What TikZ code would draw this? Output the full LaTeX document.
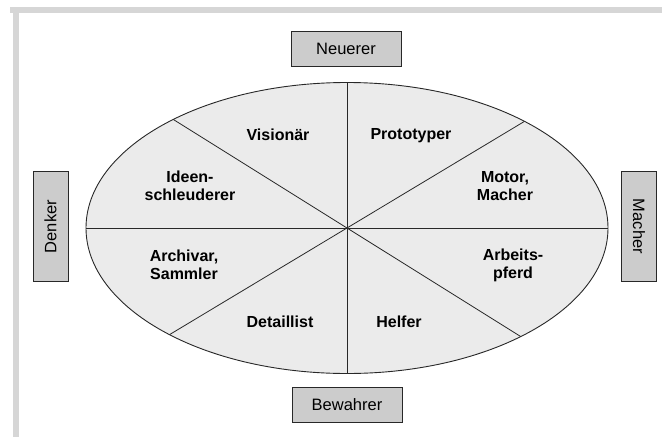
\documentclass[tikz,border=0pt]{standalone}
\usepackage{fontspec}
\setmainfont{Liberation Sans}
\usetikzlibrary{positioning,shapes.geometric}
\definecolor{framegray}{RGB}{214,214,214}
\definecolor{boxgray}{RGB}{204,204,204}
\definecolor{ovalgray}{RGB}{235,235,235}
\definecolor{linegray}{RGB}{40,40,40}

\begin{document}
\begin{tikzpicture}[
    x=1pt, y=-1pt,
    role/.style={
        draw=linegray,
        fill=boxgray,
        line width=0.8pt,
        minimum width=110pt,
        minimum height=35pt,
        inner sep=0pt,
        font=\fontsize{16.5}{18}\selectfont
    },
    sector/.style={
        align=center,
        font=\fontsize{16}{18}\selectfont\bfseries,
        inner sep=0pt
    },
    spoke/.style={
        draw=linegray,
        line width=0.8pt
    }
]

\useasboundingbox (0,0) rectangle (662,437);

% ============================================================
% FRAME
% ============================================================

\fill[framegray] (10,7) rectangle (662,13);
\fill[framegray] (13,7) rectangle (19,437);

% ============================================================
% OVAL WITH EIGHT SECTORS
% ============================================================

\node[ellipse, draw=linegray, fill=ovalgray, line width=0.9pt,
      minimum width=522pt, minimum height=291pt, outer sep=0pt,
      inner sep=0pt] (oval) at (347,228) {};

\draw[spoke] (oval.north) -- (oval.south);
\draw[spoke] (oval.west) -- (oval.east);
\draw[spoke] (oval.148.5) -- (oval.328.5);
\draw[spoke] (oval.31.5) -- (oval.211.5);

\node[sector] (vision)  at (278,135) {Visionär};
\node[sector] (proto)   at (411,136) {Prototyper};
\node[sector] (ideen)   at (190,186) {Ideen-\\schleuderer};
\node[sector] (motor)   at (505,186) {Motor,\\Macher};
\node[sector] (archiv)  at (184,265) {Archivar,\\Sammler};
\node[sector] (arbeit)  at (513,265) {Arbeits-\\pferd};
\node[sector] (detail)  at (280,322) {Detaillist};
\node[sector] (helfer)  at (399,322) {Helfer};

% ============================================================
% ROLES AROUND THE OVAL
% ============================================================

\node[role] (neuerer)  at (346,48.5) {Neuerer};
\node[role] (bewahrer) at (347,405) {Bewahrer};
\node[role, rotate=90]  (denker) at (50.5,226.5) {Denker};
\node[role, rotate=-90] (macher) at (639,226.5) {Macher};

\end{tikzpicture}
\end{document}
